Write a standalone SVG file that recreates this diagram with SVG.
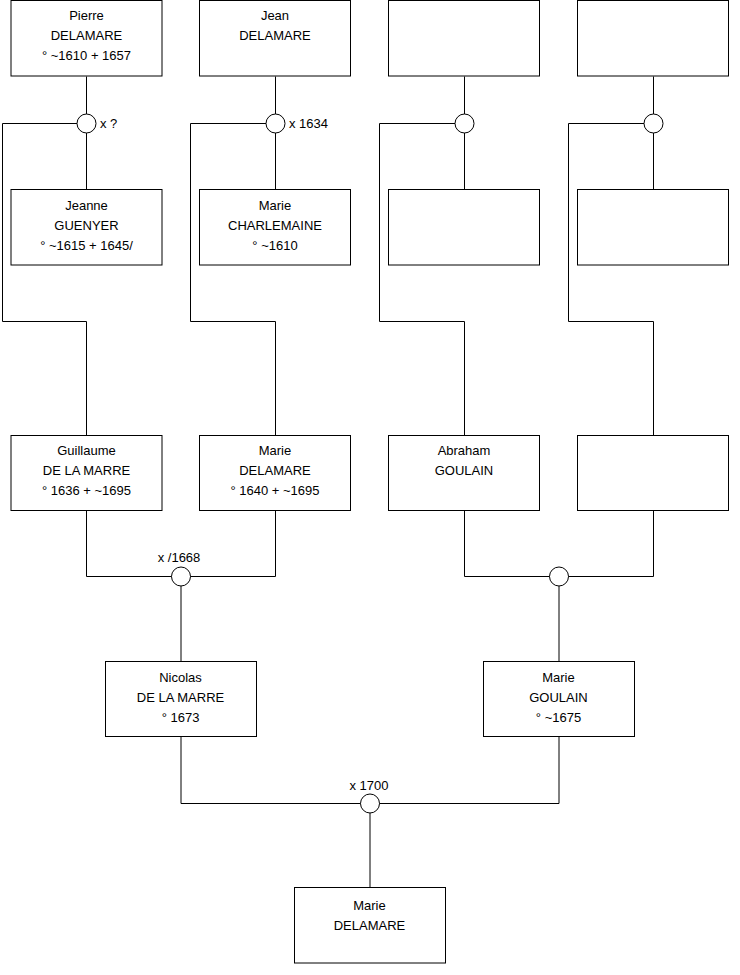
<svg xmlns="http://www.w3.org/2000/svg" width="740" height="975" viewBox="0 0 740 975">
<style>
.box{fill:#fff;stroke:#000;stroke-width:1}
.ln{fill:none;stroke:#000;stroke-width:1}
.c{fill:#fff;stroke:#000;stroke-width:1}
text{font-family:"Liberation Sans",Arial,sans-serif;font-size:13px;fill:#000}
.m{text-anchor:middle}
</style>
<rect width="740" height="975" fill="#fff"/>
<g id="connectors">
<path class="ln" d="M86.5,76.5V189.5M275.5,76.5V189.5M464.5,76.5V189.5M653.5,76.5V189.5"/>
<path class="ln" d="M77,123.5H2.5V321.5H86.5V435.5"/>
<path class="ln" d="M266,123.5H190.5V321.5H275.5V435.5"/>
<path class="ln" d="M455,123.5H379.5V321.5H464.5V435.5"/>
<path class="ln" d="M644,123.5H568.5V321.5H653.5V435.5"/>
<path class="ln" d="M86.5,510.5V576.5H275.5V510.5M181,576.5V661.5"/>
<path class="ln" d="M464.5,510.5V576.5H653.5V510.5M559,576.5V661.5"/>
<path class="ln" d="M181,736.5V803.5H559V736.5M370,803.5V887.5"/>
<circle class="c" cx="86.5" cy="123.5" r="9.5"/>
<circle class="c" cx="275.5" cy="123.5" r="9.5"/>
<circle class="c" cx="464.5" cy="123.5" r="9.5"/>
<circle class="c" cx="653.5" cy="123.5" r="9.5"/>
<circle class="c" cx="181" cy="576.5" r="9.5"/>
<circle class="c" cx="559" cy="576.5" r="9.5"/>
<circle class="c" cx="370" cy="803.5" r="9.5"/>
<text x="100" y="128">x ?</text>
<text x="289" y="128">x 1634</text>
<text class="m" x="179" y="562">x /1668</text>
<text class="m" x="369" y="790">x 1700</text>
</g>
<g id="pierre"><rect class="box" x="11" y="0.5" width="151" height="75.5"/>
<text class="m" x="86.5" y="20">Pierre</text><text class="m" x="86.5" y="40">DELAMARE</text><text class="m" x="86.5" y="60">° ~1610 + 1657</text></g>
<g id="jean"><rect class="box" x="199.5" y="0.5" width="151" height="75.5"/>
<text class="m" x="275" y="20">Jean</text><text class="m" x="275" y="40">DELAMARE</text></g>
<g id="p3"><rect class="box" x="388.5" y="0.5" width="151" height="75.5"/></g>
<g id="p4"><rect class="box" x="577.5" y="0.5" width="151" height="75.5"/></g>
<g id="jeanne"><rect class="box" x="11" y="189.5" width="151" height="75.5"/>
<text class="m" x="86.5" y="210">Jeanne</text><text class="m" x="86.5" y="230">GUENYER</text><text class="m" x="86.5" y="250">° ~1615 + 1645/</text></g>
<g id="mariec"><rect class="box" x="199.5" y="189.5" width="151" height="75.5"/>
<text class="m" x="275" y="210">Marie</text><text class="m" x="275" y="230">CHARLEMAINE</text><text class="m" x="275" y="250">° ~1610</text></g>
<g id="m3"><rect class="box" x="388.5" y="189.5" width="151" height="75.5"/></g>
<g id="m4"><rect class="box" x="577.5" y="189.5" width="151" height="75.5"/></g>
<g id="guillaume"><rect class="box" x="11" y="435.5" width="151" height="75"/>
<text class="m" x="86.5" y="455">Guillaume</text><text class="m" x="86.5" y="475">DE LA MARRE</text><text class="m" x="86.5" y="495">° 1636 + ~1695</text></g>
<g id="mariedelamare1"><rect class="box" x="199.5" y="435.5" width="151" height="75"/>
<text class="m" x="275" y="455">Marie</text><text class="m" x="275" y="475">DELAMARE</text><text class="m" x="275" y="495">° 1640 + ~1695</text></g>
<g id="abraham"><rect class="box" x="388.5" y="435.5" width="151" height="75"/>
<text class="m" x="464" y="455">Abraham</text><text class="m" x="464" y="475">GOULAIN</text></g>
<g id="w4"><rect class="box" x="577.5" y="435.5" width="151" height="75"/></g>
<g id="nicolas"><rect class="box" x="105.5" y="661.5" width="151" height="75"/>
<text class="m" x="180.5" y="682">Nicolas</text><text class="m" x="180.5" y="702">DE LA MARRE</text><text class="m" x="180.5" y="722">° 1673</text></g>
<g id="mariegoulain"><rect class="box" x="483.5" y="661.5" width="151" height="75"/>
<text class="m" x="558.5" y="682">Marie</text><text class="m" x="558.5" y="702">GOULAIN</text><text class="m" x="558.5" y="722">° ~1675</text></g>
<g id="mariedelamare2"><rect class="box" x="294.5" y="887.5" width="151" height="75.5"/>
<text class="m" x="369.5" y="910">Marie</text><text class="m" x="369.5" y="930">DELAMARE</text></g>
</svg>
